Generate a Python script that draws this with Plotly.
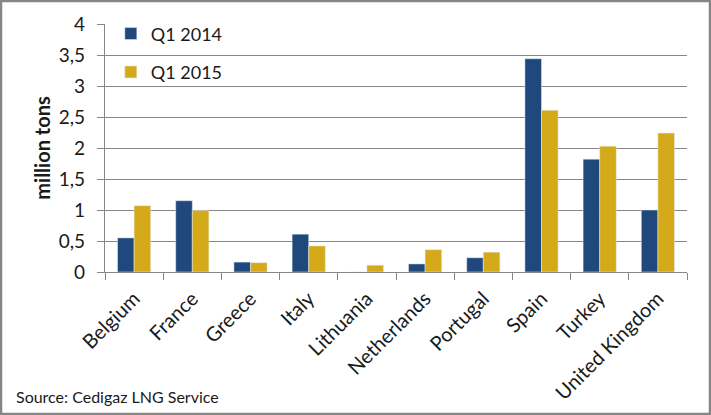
import plotly.graph_objects as go

countries = ["Belgium", "France", "Greece", "Italy", "Lithuania", "Netherlands",
             "Portugal", "Spain", "Turkey", "United Kingdom"]
q1_2014 = [0.55, 1.15, 0.16, 0.61, 0.0, 0.13, 0.23, 3.44, 1.82, 1.0]
q1_2015 = [1.07, 0.99, 0.15, 0.42, 0.11, 0.36, 0.32, 2.61, 2.03, 2.24]
y_ticks = [0, 0.5, 1, 1.5, 2, 2.5, 3, 3.5, 4]

W, H = 711, 415
L, R, T, B = 105, 24, 24, 143
pw, ph = W - L - R, H - T - B

FONT = "Lato, Open Sans, sans-serif"

fig = go.Figure()
fig.add_trace(go.Bar(x=countries, y=q1_2014, name="Q1 2014", marker_color="#1F497D",
                     legendgroup="a"))
fig.add_trace(go.Bar(x=countries, y=q1_2015, name="Q1 2015", marker_color="#D4AA1A",
                     legendgroup="b"))

fig.update_layout(
    width=W, height=H,
    margin=dict(l=L, r=R, t=T, b=B, autoexpand=False),
    paper_bgcolor="white", plot_bgcolor="white",
    separators=", ",
    bargap=0.43, bargroupgap=0,
    font=dict(family=FONT, size=17, color="#1a1a1a"),
    showlegend=True,
    legend=dict(x=0.01, y=1.035, xanchor="left", yanchor="top",
                bgcolor="rgba(0,0,0,0)", traceorder="grouped", tracegroupgap=12,
                font=dict(family=FONT, size=18, color="#1a1a1a"),
                itemwidth=30),
    yaxis=dict(range=[0, 4], tickvals=y_ticks, showgrid=True, gridcolor="#868686",
               gridwidth=1.3, zeroline=False, ticks="outside", ticklen=7,
               tickcolor="#868686", showline=True, linecolor="#868686", linewidth=1.3,
               automargin=False, ticklabelstandoff=8,
               title=dict(text="<b>million tons</b>", font=dict(family=FONT, size=20),
                          standoff=2),
               tickfont=dict(family=FONT, size=19)),
    xaxis=dict(showline=True, linecolor="#868686", linewidth=1.3, ticks="outside",
               ticklen=7, tickcolor="#868686", tickson="boundaries", tickangle=-45,
               automargin=False, ticklabelstandoff=6,
               tickfont=dict(family=FONT, size=20)),
    annotations=[dict(text="Source: Cedigaz LNG Service", xref="paper", yref="paper",
                      x=(14 - L) / pw, y=-(396 - T - ph) / ph, xanchor="left",
                      yanchor="middle", showarrow=False,
                      font=dict(family=FONT, size=16, color="#1a1a1a"))],
    shapes=[dict(type="rect", xref="paper", yref="paper",
                 x0=(1 - L) / pw, x1=(W - 1 - L) / pw,
                 y0=-(H - 1 - T - ph) / ph, y1=1 + (T - 1) / ph,
                 line=dict(color="#868686", width=2.5))],
)

fig.write_html("out.html", config={"displayModeBar": False},
               post_script="document.body.style.margin='0';")
